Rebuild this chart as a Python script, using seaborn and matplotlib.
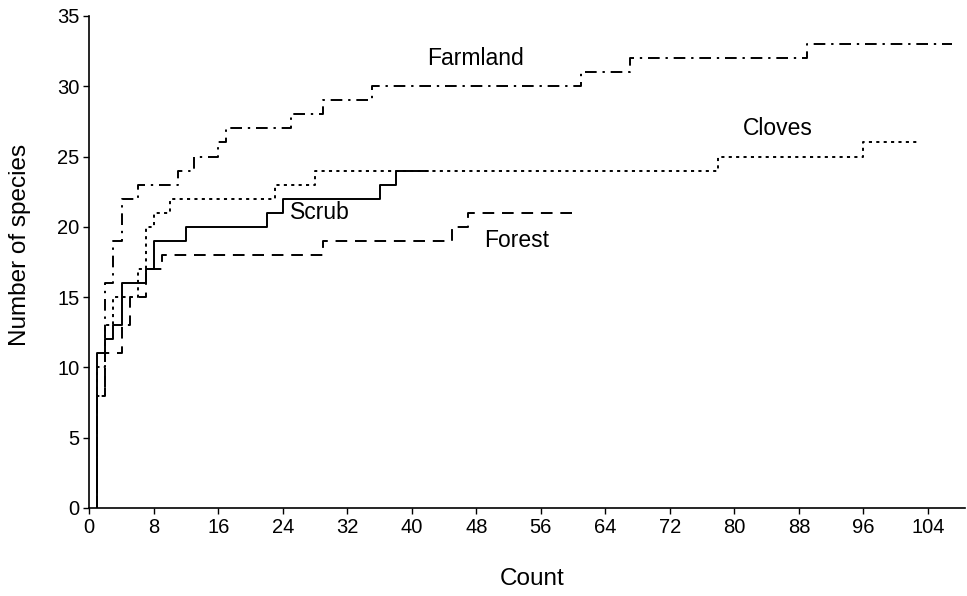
import seaborn as sns
import matplotlib.pyplot as plt

# step curves: first point at y=0, last point repeats the final value to mark the end
farmland_x = [1, 1, 2, 3, 4, 6, 11, 13, 16, 17, 25, 29, 35, 61, 67, 89, 107]
farmland_y = [0, 8, 16, 19, 22, 23, 24, 25, 26, 27, 28, 29, 30, 31, 32, 33, 33]

cloves_x = [1, 1, 2, 3, 6, 7, 8, 10, 23, 28, 78, 96, 103]
cloves_y = [0, 10, 13, 15, 17, 20, 21, 22, 23, 24, 25, 26, 26]

scrub_x = [1, 1, 2, 3, 4, 7, 8, 12, 22, 24, 36, 38, 42]
scrub_y = [0, 11, 12, 13, 16, 17, 19, 20, 21, 22, 23, 24, 24]

forest_x = [1, 1, 2, 4, 5, 7, 9, 29, 45, 47, 60]
forest_y = [0, 8, 11, 13, 15, 17, 18, 19, 20, 21, 21]

x_ticks = [0, 8, 16, 24, 32, 40, 48, 56, 64, 72, 80, 88, 96, 104]
y_ticks = [0, 5, 10, 15, 20, 25, 30, 35]

sns.set_style('ticks')
plt.rcParams['font.family'] = ['Liberation Sans', 'DejaVu Sans']
plt.rcParams['text.color'] = 'black'
plt.rcParams['axes.labelcolor'] = 'black'

fig = plt.figure(figsize=(9.67, 5.96), dpi=100)
ax = fig.add_axes([0.0923, 0.1477, 0.9057, 0.8255])

lw = 1.4
sns.lineplot(x=farmland_x, y=farmland_y, ax=ax, color='black', lw=lw,
             estimator=None, sort=False, drawstyle='steps-post',
             linestyle=(0, (6, 3, 1.2, 3)))
sns.lineplot(x=cloves_x, y=cloves_y, ax=ax, color='black', lw=lw,
             estimator=None, sort=False, drawstyle='steps-post',
             linestyle=(0, (1.6, 2.2)))
sns.lineplot(x=scrub_x, y=scrub_y, ax=ax, color='black', lw=lw,
             estimator=None, sort=False, drawstyle='steps-post')
sns.lineplot(x=forest_x, y=forest_y, ax=ax, color='black', lw=lw,
             estimator=None, sort=False, drawstyle='steps-post',
             linestyle=(0, (6, 4)))

ax.text(47.9, 32.0, 'Farmland', ha='center', va='center', fontsize=16.5)
ax.text(85.4, 27.0, 'Cloves', ha='center', va='center', fontsize=16.5)
ax.text(28.6, 21.0, 'Scrub', ha='center', va='center', fontsize=16.5)
ax.text(53.0, 19.0, 'Forest', ha='center', va='center', fontsize=16.5)

ax.set_xlim(0, 108.6)
ax.set_ylim(0, 35)
ax.set_xticks(x_ticks)
ax.set_yticks(y_ticks)
ax.tick_params(direction='out', length=4, width=1, labelsize=14.5, colors='black', pad=3)
for side in ['top', 'right']:
    ax.spines[side].set_visible(False)
for side in ['left', 'bottom']:
    ax.spines[side].set_color('black')
    ax.spines[side].set_linewidth(1.2)

ax.set_xlabel('Count', fontsize=17.5, va='center')
ax.set_ylabel('Number of species', fontsize=17.5, va='center')
ax.xaxis.set_label_coords(0.5055, -0.145)
ax.yaxis.set_label_coords(-0.079, 0.535)

fig.savefig('out.png', dpi=100)
